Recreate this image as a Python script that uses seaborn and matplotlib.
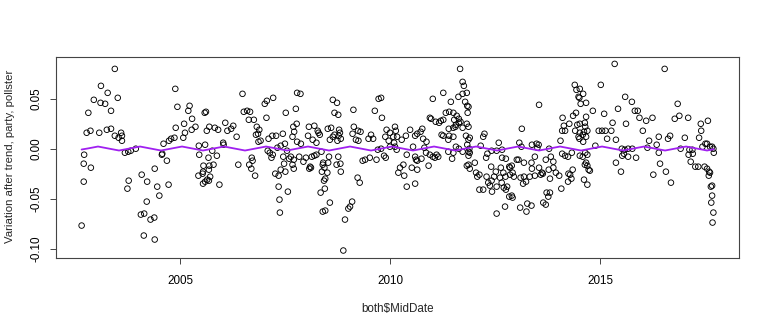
import matplotlib
matplotlib.use("Agg")
import matplotlib.pyplot as plt
import seaborn as sns
import pandas as pd

# Residual poll variation after removing trend, party and pollster effects,
# by poll mid-date (decimal years).
dates_a = [2002.66, 2002.71, 2002.71, 2002.72, 2002.78, 2002.82, 2002.87, 2002.88, 2002.95, 2003.08,
           2003.11, 2003.12, 2003.22, 2003.26, 2003.28, 2003.36, 2003.36, 2003.45, 2003.45, 2003.52,
           2003.54, 2003.60, 2003.62, 2003.62, 2003.69, 2003.75, 2003.77, 2003.78, 2003.83, 2003.95,
           2004.07, 2004.09, 2004.14, 2004.15, 2004.21, 2004.22, 2004.30, 2004.39, 2004.40, 2004.40,
           2004.46, 2004.51, 2004.57, 2004.58, 2004.61, 2004.69, 2004.73, 2004.74, 2004.79, 2004.87,
           2004.89, 2004.90, 2004.94]
vals_a = [-0.077, -0.033, -0.015, -0.006, 0.016, 0.036, 0.018, -0.019, 0.049, 0.016,
          0.046, 0.063, 0.045, 0.019, 0.056, 0.038, 0.020, 0.013, 0.080, 0.051,
          0.011, 0.016, 0.013, 0.008, -0.004, -0.040, -0.003, -0.032, -0.002, 0.000,
          -0.066, -0.026, -0.087, -0.065, -0.053, -0.033, -0.071, -0.069, -0.091, -0.020,
          -0.038, -0.047, -0.006, -0.005, 0.005, -0.012, -0.036, 0.008, 0.010, 0.011,
          0.060, 0.021, 0.042]

dates_b = [2005.08, 2005.10, 2005.12, 2005.20, 2005.23, 2005.28, 2005.29, 2005.37, 2005.44, 2005.45,
           2005.46, 2005.54, 2005.55, 2005.55, 2005.56, 2005.59, 2005.60, 2005.60, 2005.62, 2005.64,
           2005.65, 2005.68, 2005.69, 2005.69, 2005.70, 2005.70, 2005.72, 2005.77, 2005.80, 2005.83,
           2005.88, 2005.91, 2005.94, 2006.03, 2006.04, 2006.08, 2006.13, 2006.22, 2006.27, 2006.35,
           2006.39, 2006.49, 2006.52, 2006.60, 2006.64, 2006.65, 2006.67, 2006.70, 2006.71, 2006.73,
           2006.76, 2006.79, 2006.81, 2006.83, 2006.86, 2006.87, 2006.89, 2006.92, 2007.02, 2007.06,
           2007.07, 2007.09, 2007.11, 2007.14, 2007.18, 2007.20, 2007.21, 2007.22, 2007.27, 2007.29,
           2007.32, 2007.35, 2007.35, 2007.37, 2007.38, 2007.40, 2007.40, 2007.45, 2007.50, 2007.51,
           2007.52, 2007.57]
vals_b = [0.011, 0.025, 0.016, 0.038, 0.043, 0.019, 0.030, 0.022, -0.027, 0.003,
          -0.006, -0.025, -0.035, -0.023, -0.017, 0.036, 0.004, -0.033, 0.037, 0.018,
          -0.031, -0.009, -0.021, -0.032, 0.022, -0.017, -0.028, -0.002, -0.016, 0.021,
          -0.007, 0.019, -0.036, 0.006, 0.004, 0.026, 0.018, 0.020, 0.023, 0.012,
          -0.016, 0.055, 0.037, 0.038, 0.029, -0.016, 0.037, -0.020, -0.009, -0.012,
          0.029, -0.027, 0.014, 0.022, 0.015, 0.007, 0.019, 0.008, 0.045, 0.031,
          0.048, -0.002, 0.010, -0.004, -0.009, 0.013, -0.006, 0.051, -0.025, 0.013,
          0.001, -0.027, -0.038, -0.051, -0.064, 0.003, -0.021, 0.015, 0.005, -0.023,
          0.036, -0.043]

dates_c = [2007.46, 2007.48, 2007.55, 2007.60, 2007.64, 2007.68, 2007.68, 2007.70, 2007.71, 2007.71,
           2007.72, 2007.76, 2007.78, 2007.79, 2007.79, 2007.84, 2007.87, 2007.88, 2007.94, 2008.00,
           2008.05, 2008.07, 2008.08, 2008.10, 2008.12, 2008.14, 2008.16, 2008.20, 2008.20, 2008.25,
           2008.25, 2008.28, 2008.30, 2008.33, 2008.35, 2008.37, 2008.38, 2008.40, 2008.40, 2008.41,
           2008.43, 2008.44, 2008.45, 2008.46, 2008.46, 2008.51, 2008.52, 2008.53, 2008.55, 2008.57,
           2008.57, 2008.60, 2008.64, 2008.64, 2008.68, 2008.68, 2008.73, 2008.74, 2008.75, 2008.77,
           2008.77, 2008.78, 2008.79, 2008.81, 2008.82, 2008.83, 2008.83, 2008.89, 2008.93, 2009.01,
           2009.05, 2009.10, 2009.11, 2009.13, 2009.14, 2009.19, 2009.23, 2009.24, 2009.25, 2009.28,
           2009.30, 2009.35, 2009.41, 2009.49, 2009.52, 2009.55, 2009.60, 2009.64, 2009.68, 2009.71,
           2009.73, 2009.79, 2009.79, 2009.81, 2009.86, 2009.89, 2009.90, 2009.92, 2009.97, 2010.00,
           2010.00, 2010.08, 2010.12, 2010.12, 2010.14, 2010.16, 2010.20, 2010.24, 2010.10, 2010.17]
vals_c = [-0.008, -0.015, -0.002, -0.010, -0.008, 0.012, -0.016, 0.022, -0.011, -0.020,
          0.017, 0.040, 0.025, 0.056, 0.007, -0.008, 0.055, 0.005, -0.013, -0.009,
          0.013, 0.022, -0.020, -0.018, -0.019, -0.008, 0.009, 0.023, -0.007, 0.006,
          -0.006, 0.018, 0.016, 0.014, -0.044, -0.003, -0.023, -0.016, -0.063, -0.014,
          -0.032, -0.019, -0.040, -0.030, -0.062, -0.024, 0.020, -0.014, -0.008, 0.009,
          -0.054, 0.021, 0.012, 0.049, 0.036, 0.014, -0.016, 0.046, 0.008, 0.034,
          -0.008, 0.013, 0.019, 0.016, -0.015, 0.010, -0.023, -0.102, -0.071, -0.060,
          -0.058, -0.053, 0.015, 0.039, 0.022, 0.009, -0.029, 0.018, 0.008, -0.034,
          0.017, -0.012, -0.011, 0.010, -0.009, 0.014, 0.010, 0.038, -0.011, -0.001,
          0.050, 0.051, 0.000, 0.031, -0.007, 0.012, -0.009, 0.019, 0.008, 0.016,
          0.002, 0.012, 0.022, 0.002, 0.018, -0.001, -0.024, -0.019, 0.006, 0.012]

dates_d = [2010.28, 2010.32, 2010.34, 2010.38, 2010.40, 2010.40, 2010.48, 2010.52, 2010.55, 2010.60,
           2010.60, 2010.60, 2010.62, 2010.65, 2010.65, 2010.65, 2010.73, 2010.75, 2010.77, 2010.79,
           2010.82, 2010.86, 2010.87, 2010.92, 2010.95, 2010.95, 2010.98, 2011.02, 2011.02, 2011.07,
           2011.09, 2011.11, 2011.15, 2011.17, 2011.21, 2011.23, 2011.27, 2011.27, 2011.27, 2011.33,
           2011.39, 2011.39, 2011.40, 2011.41, 2011.41, 2011.45, 2011.48, 2011.51, 2011.51, 2011.51,
           2011.51, 2011.53, 2011.56, 2011.57, 2011.57, 2011.59, 2011.63, 2011.64, 2011.64, 2011.64,
           2011.67, 2011.68, 2011.73, 2011.73, 2011.73, 2011.73, 2011.76, 2011.79, 2011.81, 2011.83,
           2011.83, 2011.83, 2011.84, 2011.84, 2011.85, 2011.87, 2011.87, 2011.87, 2011.87, 2011.87,
           2011.87, 2011.89, 2011.90, 2011.90, 2011.90, 2012.02, 2012.05, 2012.08, 2012.13, 2012.13,
           2012.16, 2012.22, 2012.22, 2012.25, 2012.29, 2012.30, 2012.32, 2012.34, 2012.38, 2012.41,
           2012.42, 2012.42, 2012.43, 2012.48, 2012.52, 2012.54, 2012.54, 2012.54, 2012.59, 2012.62,
           2012.64, 2012.66, 2012.67, 2012.67, 2012.71, 2012.74, 2012.76, 2012.76, 2012.79, 2012.84,
           2012.84]
vals_d = [0.009, -0.016, -0.027, 0.013, -0.006, -0.038, 0.019, -0.019, 0.002, 0.013,
          -0.008, -0.035, -0.011, 0.015, -0.012, -0.021, 0.017, -0.010, 0.020, 0.010,
          0.001, -0.004, 0.007, -0.017, 0.031, -0.006, 0.030, 0.050, -0.008, -0.009,
          0.027, -0.006, -0.008, 0.026, 0.028, 0.014, 0.029, 0.013, 0.056, 0.036,
          0.009, -0.003, 0.020, 0.037, 0.013, 0.047, -0.010, 0.036, 0.021, 0.012,
          -0.004, 0.029, 0.022, 0.024, 0.002, 0.033, 0.052, 0.030, 0.026, 0.000,
          0.080, 0.027, 0.067, 0.055, 0.021, -0.003, 0.063, 0.047, 0.013, 0.025,
          -0.017, 0.056, 0.043, 0.004, 0.036, -0.016, 0.042, 0.022, 0.009, -0.003,
          -0.007, 0.000, 0.011, -0.004, -0.020, -0.014, -0.024, -0.028, -0.026, -0.041,
          0.003, 0.012, -0.041, 0.015, -0.009, -0.028, -0.005, -0.034, -0.037, -0.018,
          -0.002, -0.032, -0.043, -0.028, -0.023, -0.002, -0.038, -0.065, 0.006, -0.029,
          -0.019, -0.034, -0.001, -0.009, -0.039, -0.058, -0.010, -0.041, -0.038, -0.018,
          -0.048]

dates_e = [2012.70, 2012.75, 2012.86, 2012.86, 2012.90, 2012.90, 2012.92, 2012.92, 2012.95, 2013.02,
           2013.06, 2013.08, 2013.10, 2013.11, 2013.13, 2013.14, 2013.17, 2013.19, 2013.19, 2013.24,
           2013.25, 2013.27, 2013.33, 2013.37, 2013.37, 2013.38, 2013.38, 2013.45, 2013.45, 2013.49,
           2013.51, 2013.54, 2013.55, 2013.55, 2013.59, 2013.62, 2013.64, 2013.65, 2013.71, 2013.71,
           2013.73, 2013.77, 2013.78, 2013.79, 2013.81, 2013.81, 2013.83, 2013.89, 2013.89, 2013.95,
           2014.03, 2014.06, 2014.08, 2014.10, 2014.10, 2014.11, 2014.14, 2014.17, 2014.17, 2014.24,
           2014.24, 2014.25, 2014.27, 2014.29, 2014.32, 2014.33, 2014.35, 2014.36, 2014.40, 2014.41,
           2014.43, 2014.44, 2014.46, 2014.49, 2014.49, 2014.51, 2014.51, 2014.52, 2014.52, 2014.52,
           2014.52, 2014.54, 2014.59, 2014.59, 2014.60, 2014.60, 2014.62, 2014.62, 2014.64, 2014.64,
           2014.65, 2014.65, 2014.67, 2014.67, 2014.67, 2014.67, 2014.70, 2014.70, 2014.70, 2014.70,
           2014.73, 2014.76, 2014.83, 2014.89, 2014.97, 2015.02, 2015.05, 2015.10, 2015.13, 2015.17,
           2015.27, 2015.30, 2015.35, 2015.38, 2015.43]
vals_e = [-0.024, -0.028, -0.019, -0.026, -0.017, -0.047, -0.024, -0.049, -0.028, -0.011,
          -0.011, 0.006, -0.059, -0.029, 0.002, 0.020, -0.035, -0.014, -0.028, -0.033,
          -0.063, -0.055, -0.028, -0.014, -0.057, 0.004, -0.020, -0.008, -0.027, 0.005,
          0.001, 0.004, 0.044, -0.019, -0.026, -0.024, -0.025, -0.054, -0.011, -0.056,
          -0.044, -0.048, -0.021, 0.000, -0.030, -0.044, -0.008, -0.013, -0.019, -0.024,
          -0.027, 0.008, -0.040, 0.018, -0.005, 0.031, 0.023, 0.018, -0.007, -0.008,
          -0.033, -0.025, 0.025, -0.026, -0.030, -0.004, -0.021, 0.033, 0.064, 0.018,
          0.036, 0.059, 0.024, 0.052, 0.012, 0.051, 0.010, 0.060, 0.025, 0.016,
          -0.007, 0.045, 0.014, -0.008, 0.055, 0.007, 0.017, -0.031, 0.026, -0.016,
          0.022, -0.004, 0.046, 0.032, 0.012, -0.014, 0.018, -0.006, -0.017, -0.036,
          -0.021, -0.022, 0.038, 0.003, 0.018, 0.064, 0.018, 0.035, 0.018, 0.010,
          0.018, 0.026, 0.085, 0.009, 0.040]

dates_f = [2015.38, 2015.50, 2015.52, 2015.53, 2015.57, 2015.59, 2015.60, 2015.62, 2015.67, 2015.67,
           2015.76, 2015.77, 2015.83, 2015.86, 2015.90, 2015.94, 2016.02, 2016.10, 2016.13, 2016.17,
           2016.25, 2016.27, 2016.35, 2016.40, 2016.40, 2016.43, 2016.54, 2016.57, 2016.62, 2016.67,
           2016.69, 2016.78, 2016.85, 2016.89, 2016.92, 2017.02, 2017.10, 2017.11, 2017.13, 2017.16,
           2017.20, 2017.21, 2017.27, 2017.34, 2017.36, 2017.40, 2017.41, 2017.44, 2017.49, 2017.51,
           2017.55, 2017.55, 2017.57, 2017.59, 2017.60, 2017.62, 2017.62, 2017.64, 2017.65, 2017.67,
           2017.67, 2017.67, 2017.68, 2017.70, 2017.70, 2017.71]
vals_f = [-0.014, -0.023, 0.000, -0.007, -0.005, -0.001, 0.052, 0.025, -0.008, 0.000,
          0.047, 0.000, 0.038, -0.009, 0.038, 0.031, 0.018, 0.028, 0.001, 0.008,
          0.031, -0.026, 0.004, -0.004, 0.012, -0.015, 0.080, -0.023, 0.010, 0.013,
          -0.034, 0.030, 0.045, 0.033, 0.000, 0.011, 0.031, -0.006, -0.001, -0.013,
          -0.001, -0.005, -0.018, -0.018, 0.011, 0.025, 0.018, 0.002, -0.018, 0.005,
          0.005, -0.020, 0.028, -0.027, -0.023, 0.002, -0.024, -0.038, -0.054, 0.002,
          -0.037, -0.047, -0.074, 0.000, -0.064, -0.004]

# Fitted seasonal component drawn over the scatter
trend_dates = [2002.66, 2002.80,
               2003.05, 2003.30, 2003.55, 2003.80, 2004.05, 2004.30, 2004.55, 2004.80,
               2005.05, 2005.30, 2005.55, 2005.80, 2006.05, 2006.30, 2006.55, 2006.80,
               2007.05, 2007.30, 2007.55, 2007.80, 2008.05, 2008.30, 2008.55, 2008.80,
               2009.05, 2009.30, 2009.55, 2009.80, 2010.05, 2010.30, 2010.55, 2010.80,
               2011.05, 2011.30, 2011.55, 2011.80, 2012.05, 2012.30, 2012.55, 2012.80,
               2013.05, 2013.30, 2013.55, 2013.80, 2014.05, 2014.30, 2014.55, 2014.80,
               2015.05, 2015.30, 2015.55, 2015.80, 2016.05, 2016.30, 2016.55, 2016.80,
               2017.05, 2017.30, 2017.55, 2017.71]
trend_vals = [-0.0008, 0.0002,
              0.0022, 0.0002, -0.0018, 0.0002, 0.0022, 0.0002, -0.0018, 0.0002,
              0.0022, 0.0002, -0.0018, 0.0002, 0.0022, 0.0002, -0.0018, 0.0002,
              0.0022, 0.0002, -0.0018, 0.0002, 0.0022, 0.0002, -0.0018, 0.0002,
              0.0022, 0.0002, -0.0018, 0.0002, 0.0022, 0.0002, -0.0018, 0.0002,
              0.0022, 0.0002, -0.0018, 0.0002, 0.0022, 0.0002, -0.0018, 0.0002,
              0.0022, 0.0002, -0.0018, 0.0002, 0.0022, 0.0002, -0.0018, 0.0002,
              0.0022, 0.0002, -0.0018, 0.0002, 0.0022, 0.0002, -0.0018, 0.0002,
              0.0022, 0.0002, -0.0018, -0.0005]

x_ticks = [2005, 2010, 2015]
x_tick_labels = ["2005", "2010", "2015"]
y_ticks = [-0.10, -0.05, 0.00, 0.05]
y_tick_labels = ["-0.10", "-0.05", "0.00", "0.05"]
x_title = "both$MidDate"
y_title = "Variation after trend, party, pollster"

dates = dates_a + dates_b + dates_c + dates_d + dates_e + dates_f
vals = vals_a + vals_b + vals_c + vals_d + vals_e + vals_f
polls = pd.DataFrame({"MidDate": dates, "variation": vals})
seasonal = pd.DataFrame({"MidDate": trend_dates, "effect": trend_vals})

sns.set_style("ticks")
plt.rcParams["font.family"] = ["Liberation Sans", "DejaVu Sans"]
plt.rcParams["axes.unicode_minus"] = False

W, H = 768, 329
fig = plt.figure(figsize=(W / 100, H / 100), dpi=100)
left, right, top, bottom = 56, 739, 56.7, 258
ax = fig.add_axes([left / W, 1 - bottom / H, (right - left) / W, (bottom - top) / H])

sns.scatterplot(data=polls, x="MidDate", y="variation", ax=ax, s=16,
                facecolors="none", edgecolor="black", linewidth=0.65, zorder=2)
sns.lineplot(data=seasonal, x="MidDate", y="effect", ax=ax,
             color="#A020F0", linewidth=1.3, zorder=3)

ax.set_xlim(2002.05, 2018.31)
ax.set_ylim(-0.1095, 0.0922)
ax.set_xticks(x_ticks)
ax.set_xticklabels(x_tick_labels)
ax.set_yticks(y_ticks)
ax.set_yticklabels(y_tick_labels, rotation=90, va="center")
ax.tick_params(direction="out", length=4.3, width=0.7, color="#444444",
               labelcolor="black", labelsize=8.4)
ax.tick_params(axis="x", pad=8.0)
ax.tick_params(axis="y", pad=5.3)
for sp in ax.spines.values():
    sp.set_visible(True)
    sp.set_color("#444444")
    sp.set_linewidth(0.8)
ax.set_xlabel("")
ax.set_ylabel("")

fig.text(10 / W, 1 - 156 / H, y_title, rotation=90, ha="center", va="center", fontsize=8.2)
fig.text((left + right) / 2 / W, 1 - 312 / H, x_title, ha="center", va="baseline", fontsize=8.4)

fig.savefig("out.png", dpi=100, facecolor="white")
